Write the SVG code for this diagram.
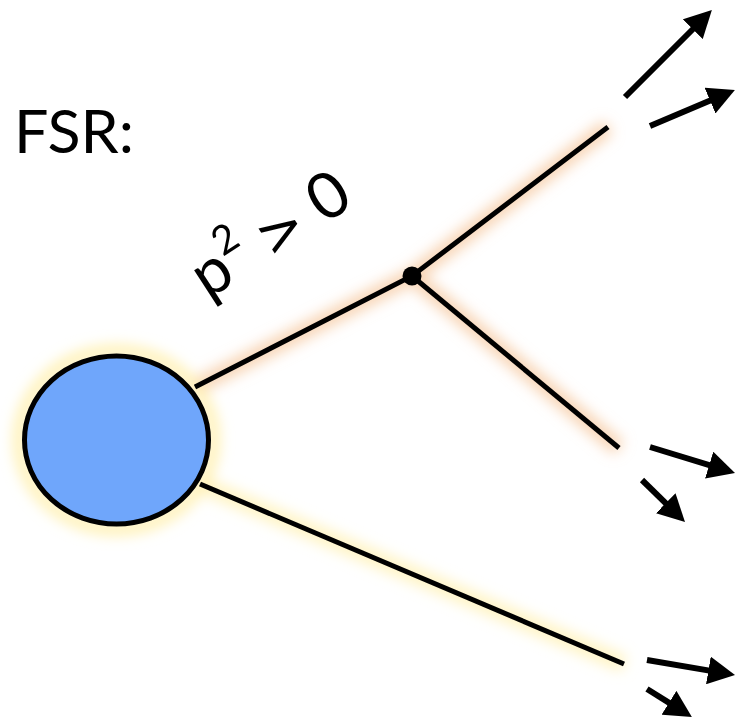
<svg xmlns="http://www.w3.org/2000/svg" width="736" height="720" viewBox="0 0 736 720">
<style>
.ln{stroke:#000;stroke-width:5;fill:none;stroke-linecap:butt}
.ar{stroke:#000;stroke-width:6;fill:none}
.txt{font-family:"Lato","Liberation Sans",sans-serif;fill:#000}
</style>
<defs>
<filter id="glow" x="-20%" y="-20%" width="140%" height="140%"><feGaussianBlur stdDeviation="7"/></filter>
<marker id="ah" viewBox="0 0 27 28" refX="13" refY="14" markerWidth="27" markerHeight="28" orient="auto" markerUnits="userSpaceOnUse">
<path d="M0,0 L27,14 L0,28 z" fill="#000"/>
</marker>
</defs>
<rect width="736" height="720" fill="#fff"/>
<g id="glows" filter="url(#glow)">
<path d="M195,387 L412,276 L608,127 M412,276 L619,448" stroke="#f6c49a" stroke-width="16" fill="none" opacity="0.75"/>
<path d="M200,484 L624,664" stroke="#fff0b0" stroke-width="16" fill="none" opacity="0.8"/>
<ellipse cx="116.5" cy="440" rx="97" ry="89" stroke="#fff0b0" stroke-width="12" fill="none"/>
</g>
<g id="connectors">
<path class="ln" d="M195,387 L412,276 L608,127"/>
<path class="ln" d="M412,276 L619,448"/>
<path class="ln" d="M200,484 L624,664"/>
<line class="ar" x1="625" y1="97" x2="702" y2="20" marker-end="url(#ah)"/>
<line class="ar" x1="650" y1="126" x2="722" y2="95.5" marker-end="url(#ah)"/>
<line class="ar" x1="650" y1="447" x2="721.6" y2="468.9" marker-end="url(#ah)"/>
<line class="ar" x1="642" y1="480" x2="675" y2="512.3" marker-end="url(#ah)"/>
<line class="ar" x1="647" y1="660" x2="721.2" y2="672.6" marker-end="url(#ah)"/>
<line class="ar" x1="647" y1="689" x2="680" y2="709.6" marker-end="url(#ah)"/>
</g>
<g id="blob">
<ellipse cx="116.5" cy="440" rx="92" ry="84" fill="#6fa6fb" stroke="#000" stroke-width="5"/>
</g>
<g id="vertex">
<circle cx="412" cy="276" r="9.5" fill="#000"/>
</g>
<g id="label-fsr">
<text class="txt" x="14" y="153" font-size="60" textLength="120" lengthAdjust="spacingAndGlyphs">FSR:</text>
</g>
<g id="label-p2">
<text class="txt" transform="translate(208,300) rotate(-33)" font-size="64">p<tspan font-size="40" dy="-28">2</tspan><tspan dy="28"> <tspan font-family="DejaVu Sans" font-size="56">&gt;</tspan> 0</tspan></text>
</g>
</svg>
